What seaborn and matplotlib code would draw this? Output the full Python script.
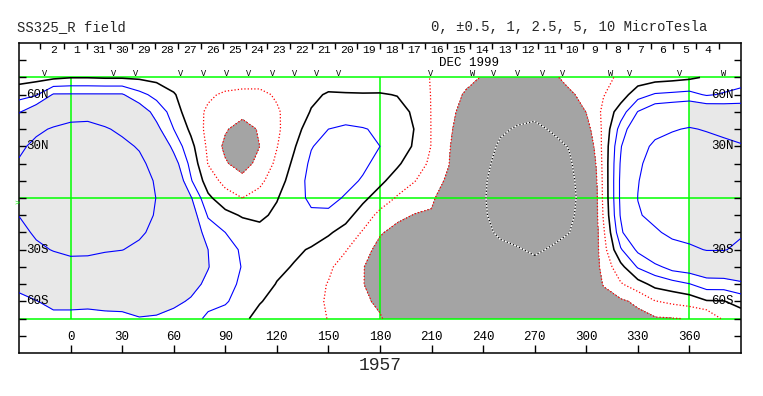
import numpy as np
import matplotlib
matplotlib.use('Agg')
import matplotlib.pyplot as plt
import seaborn as sns

# Synoptic map of the radial field, Carrington rotation 1957 (values in microtesla)
lons = [-30, -20, -10, 0, 10, 20, 30, 40, 50, 60, 70, 80, 90, 100, 110, 120, 130,
        140, 150, 160, 170, 180, 190, 200, 210, 220, 230, 240, 250, 260, 270, 280,
        290, 300, 310, 320, 330, 340, 350, 360, 370, 380, 390]
lats = [70, 60, 50, 40, 30, 20, 10, 0, -10, -20, -30, -40, -50, -60, -70]

# one column per longitude, from 70N down to 70S
br_by_lon = [
    [-0.2, 0.3, 0.95, 1.6, 2.3, 2.6, 2.7, 2.65, 2.52, 2.2, 1.9, 1.5, 1.15, 0.85, 0.7],      # -30
    [-0.15, 0.45, 1.4, 2.3, 2.75, 3.0, 3.1, 3.0, 2.85, 2.65, 2.3, 1.8, 1.35, 0.98, 0.75],  # -20
    [-0.1, 1.05, 1.8, 2.6, 3.2, 3.5, 3.6, 3.5, 3.3, 3.0, 2.55, 2.0, 1.5, 1.15, 0.85],      # -10
    [-0.02, 1.05, 1.9, 2.9, 3.5, 3.8, 3.9, 3.85, 3.6, 3.3, 2.75, 2.1, 1.55, 1.15, 0.85],   # 0
    [-0.02, 1.05, 1.95, 2.95, 3.5, 3.8, 3.9, 3.85, 3.6, 3.25, 2.75, 2.05, 1.5, 1.12, 0.85],  # 10
    [-0.05, 1.05, 1.9, 2.6, 3.2, 3.5, 3.6, 3.55, 3.35, 3.0, 2.6, 1.95, 1.5, 1.15, 0.88],   # 20
    [-0.05, 1.05, 1.75, 2.3, 2.75, 3.1, 3.2, 3.2, 3.0, 2.8, 2.52, 1.9, 1.45, 1.15, 0.9],   # 30
    [-0.08, 0.65, 1.35, 1.95, 2.4, 2.75, 2.9, 2.95, 2.85, 2.65, 2.3, 1.8, 1.45, 1.2, 0.98],  # 40
    [-0.15, 0.35, 0.8, 1.15, 1.65, 2.1, 2.4, 2.48, 2.42, 2.25, 2.0, 1.7, 1.45, 1.2, 0.95],  # 50
    [-0.3, 0.05, 0.3, 0.5, 0.85, 1.25, 1.6, 1.85, 1.95, 1.95, 1.85, 1.65, 1.4, 1.1, 0.85],  # 60
    [-0.3, -0.35, -0.35, -0.1, 0.15, 0.35, 0.55, 1.05, 1.3, 1.45, 1.45, 1.35, 1.15, 0.95, 0.7],  # 70
    [-0.3, -0.45, -0.55, -0.65, -0.6, -0.52, -0.25, 0.1, 0.45, 0.75, 1.0, 1.02, 0.9, 0.65, 0.4],  # 80
    [-0.3, -0.55, -0.8, -0.95, -1.1, -0.95, -0.65, -0.3, 0.15, 0.5, 0.65, 0.7, 0.65, 0.55, 0.3],  # 90
    [-0.3, -0.6, -0.85, -1.2, -1.55, -1.2, -0.85, -0.5, -0.05, 0.3, 0.45, 0.48, 0.42, 0.3, 0.1],  # 100
    [-0.3, -0.6, -0.8, -0.95, -1.0, -0.85, -0.6, -0.35, -0.1, 0.15, 0.3, 0.3, 0.2, 0.03, -0.15],  # 110
    [-0.25, -0.45, -0.55, -0.58, -0.52, -0.4, -0.25, -0.03, 0.1, 0.2, 0.2, 0.1, -0.02, -0.15, -0.25],  # 120
    [-0.3, -0.35, -0.3, -0.2, -0.05, 0.1, 0.25, 0.3, 0.3, 0.2, 0.08, -0.03, -0.15, -0.25, -0.3],  # 130
    [-0.2, -0.1, 0.03, 0.25, 0.47, 0.6, 0.65, 0.6, 0.42, 0.2, -0.04, -0.2, -0.35, -0.42, -0.4],  # 140
    [-0.25, 0.05, 0.35, 0.5, 0.7, 0.8, 0.8, 0.65, 0.4, 0.05, -0.2, -0.42, -0.52, -0.53, -0.51],  # 150
    [-0.3, 0.04, 0.35, 0.55, 0.75, 0.8, 0.65, 0.45, 0.15, -0.15, -0.47, -0.7, -0.8, -0.8, -0.75],  # 160
    [-0.3, 0.03, 0.3, 0.52, 0.65, 0.6, 0.45, 0.1, -0.2, -0.55, -0.82, -0.97, -0.98, -0.9, -0.85],  # 170
    [-0.35, 0.04, 0.3, 0.45, 0.5, 0.35, 0.1, -0.2, -0.65, -0.95, -1.15, -1.3, -1.25, -1.1, -0.95],  # 180
    [-0.3, -0.02, 0.2, 0.3, 0.25, 0.07, -0.2, -0.55, -0.88, -1.15, -1.4, -1.55, -1.55, -1.45, -1.3],  # 190
    [-0.35, -0.2, -0.08, -0.01, -0.05, -0.25, -0.48, -0.75, -1.02, -1.3, -1.6, -1.75, -1.75, -1.65, -1.5],  # 200
    [-0.52, -0.52, -0.52, -0.52, -0.52, -0.6, -0.75, -0.92, -1.05, -1.4, -1.75, -1.95, -2.0, -1.95, -1.8],  # 210
    [-0.65, -0.7, -0.78, -0.85, -0.93, -0.98, -1.1, -1.3, -1.55, -1.85, -2.1, -2.25, -2.3, -2.25, -2.1],  # 220
    [-0.8, -1.08, -1.3, -1.5, -1.65, -1.8, -1.9, -2.0, -2.1, -2.25, -2.35, -2.4, -2.4, -2.3, -2.15],  # 230
    [-1.05, -1.35, -1.6, -1.85, -2.05, -2.25, -2.38, -2.42, -2.4, -2.35, -2.3, -2.25, -2.2, -2.1, -1.95],  # 240
    [-1.2, -1.6, -1.95, -2.35, -2.65, -2.8, -2.9, -2.9, -2.8, -2.6, -2.35, -2.2, -2.05, -1.85, -1.6],  # 250
    [-1.3, -1.75, -2.15, -2.6, -2.95, -3.15, -3.25, -3.25, -3.1, -2.85, -2.42, -2.1, -1.85, -1.6, -1.3],  # 260
    [-1.3, -1.75, -2.2, -2.75, -3.15, -3.4, -3.5, -3.5, -3.35, -3.05, -2.65, -2.2, -1.8, -1.5, -1.2],  # 270
    [-1.1, -1.55, -2.0, -2.4, -2.85, -3.1, -3.2, -3.2, -3.05, -2.8, -2.4, -2.0, -1.65, -1.35, -1.1],  # 280
    [-0.85, -1.08, -1.5, -2.0, -2.45, -2.65, -2.75, -2.78, -2.7, -2.52, -2.2, -1.8, -1.45, -1.3, -1.15],  # 290
    [-0.7, -0.85, -0.98, -1.2, -1.5, -1.8, -2.0, -2.1, -2.05, -1.95, -1.75, -1.5, -1.3, -1.2, -1.1],  # 300
    [-0.65, -0.52, -0.4, -0.4, -0.36, -0.36, -0.38, -0.39, -0.45, -0.58, -0.7, -0.85, -0.98, -1.12, -1.2],  # 310
    [-0.4, -0.25, 0.25, 0.7, 0.95, 1.05, 1.1, 1.1, 1.05, 0.85, 0.45, -0.15, -0.55, -1.08, -1.3],  # 320
    [-0.3, 0.3, 1.02, 1.5, 2.0, 2.3, 2.45, 2.52, 2.4, 2.0, 1.1, 0.55, -0.2, -0.9, -1.15],  # 330
    [-0.2, 0.55, 1.4, 2.1, 2.75, 3.0, 3.1, 3.05, 2.8, 2.35, 1.65, 0.85, 0.15, -0.52, -1.05],  # 340
    [-0.15, 0.6, 1.5, 2.4, 3.0, 3.3, 3.4, 3.35, 3.1, 2.75, 2.1, 1.2, 0.3, -0.4, -1.02],  # 350
    [-0.08, 0.65, 1.6, 2.6, 3.2, 3.5, 3.6, 3.55, 3.3, 2.9, 2.3, 1.3, 0.48, -0.3, -0.98],  # 360
    [0.05, 0.45, 1.5, 2.4, 3.05, 3.35, 3.45, 3.4, 3.15, 2.85, 2.55, 1.45, 0.75, -0.04, -0.97],  # 370
    [0.15, 0.55, 1.4, 2.2, 2.8, 3.1, 3.2, 3.15, 2.95, 2.75, 2.55, 1.5, 0.75, -0.02, -0.4],  # 380
    [0.2, 0.7, 1.3, 2.0, 2.6, 2.9, 3.0, 2.95, 2.8, 2.6, 2.3, 1.55, 0.9, 0.2, -0.3],  # 390
]

pos_levels = [0.5, 1, 2.5, 5, 10]
neg_levels = [-1, -0.5]

lon_ticks = [0, 30, 60, 90, 120, 150, 180, 210, 240, 270, 300, 330, 360]
lat_ticks = [-80, -70, -60, -50, -40, -30, -20, -10, 0, 10, 20, 30, 40, 50, 60, 70, 80]
lat_labels = {60: '60N', 30: '30N', -30: '30S', -60: '60S'}

# day boundaries along the top (Carrington longitude) and the dates between them
day_edges = [-17.5, -3.9, 9.7, 22.7, 35.9, 48.9, 62.7, 75.6, 88.8, 101.8, 114.4,
             127.4, 140.6, 153.6, 166.8, 179.8, 193.0, 205.9, 219.1, 232.1, 245.3,
             258.9, 271.7, 285.0, 297.8, 311.2, 324.4, 337.4, 350.6, 363.6, 377.1]
day_names = ['2', '1', '31', '30', '29', '28', '27', '26', '25', '24', '23', '22',
             '21', '20', '19', '18', '17', '16', '15', '14', '13', '12', '11', '10',
             '9', '8', '7', '6', '5', '4']

# observation markers above the map
obs_lons = [-15.0, 24.8, 37.5, 64.0, 77.5, 91.0, 103.6, 117.4, 130.0, 143.0, 156.1,
            209.5, 234.0, 246.3, 260.0, 274.5, 286.2, 314.0, 325.4, 354.0, 379.8]
obs_marks = ['V'] * 12 + ['W', 'V', 'V', 'V', 'V', 'W', 'V', 'V', 'W']

sns.set_theme(style='white')
plt.rcParams['font.family'] = ['Liberation Mono', 'DejaVu Sans Mono']

W, H = 763, 396
fig = plt.figure(figsize=(W / 100, H / 100), dpi=100)
ax = fig.add_axes([19 / W, 1 - 353 / H, 722 / W, 310 / H])

x = np.array(lons, dtype=float)
y = np.array(lats, dtype=float)[::-1]
z = np.array(br_by_lon, dtype=float).T[::-1]

green = '#00ff00'
light_gray = '#e8e8e8'
dark_gray = '#a4a4a4'

# shading: strong positive on the left lobe and its wrapped copy, strong negative everywhere
left = x <= 100
right = x >= 360
ax.contourf(x[left], y, z[:, left], levels=[1, 100], colors=[light_gray], zorder=1)
ax.contourf(x[right], y, z[:, right], levels=[1, 100], colors=[light_gray], zorder=1)
ax.contourf(x, y, z, levels=[-100, -1], colors=[dark_gray], zorder=1)

ax.hlines([70, 0, -70], -30, 390, color=green, lw=1.1, zorder=2)
ax.vlines([0, 180, 360], -70, 70, color=green, lw=1.1, zorder=2)

ax.contour(x, y, z, levels=[0], colors='black', linewidths=1.15,
           linestyles='solid', zorder=3)
ax.contour(x, y, z, levels=pos_levels, colors='#0000ff', linewidths=0.8,
           linestyles='solid', zorder=3)
ax.contour(x, y, z, levels=neg_levels, colors='#ff0000', linewidths=0.9,
           linestyles='dotted', zorder=3)
ax.contour(x, y, z, levels=[-2.5], colors='white', linewidths=0.9,
           linestyles='solid', zorder=3)
ax.contour(x, y, z, levels=[-2.5], colors='black', linewidths=0.9,
           linestyles='dotted', zorder=4)

ax.set_xlim(-30, 390)
ax.set_ylim(-90, 90)
ax.set_xticks([])
ax.set_yticks([])
for s in ax.spines.values():
    s.set_color('black')
    s.set_linewidth(1.1)

# frame ticks
ax.vlines(lon_ticks, -90, -85.4, color='black', lw=1)
for lo in lon_ticks:
    ax.text(lo, -80.8, str(lo), ha='center', va='center', fontsize=9, color='black')
ax.hlines(lat_ticks, -30, -25.8, color='black', lw=1)
ax.hlines(lat_ticks, 385.8, 390, color='black', lw=1)
for la, lab in lat_labels.items():
    ax.text(-25.6, la, lab, ha='left', va='center', fontsize=9, color='black', zorder=5)
    ax.text(385.9, la, lab, ha='right', va='center', fontsize=9, color='black', zorder=5)

# dates along the top
ax.vlines(day_edges, 86.4, 90, color='black', lw=1)
for a, b, name in zip(day_edges[:-1], day_edges[1:], day_names):
    ax.text((a + b) / 2 + 0.6, 86.0, name, ha='center', va='center', fontsize=8.2, color='black')
ax.text(231.8, 78.6, 'DEC 1999', ha='center', va='center', fontsize=9, color='black')

for lo, m in zip(obs_lons, obs_marks):
    ax.text(lo, 72.4, m, ha='center', va='center', fontsize=6.2, color='black')

ax.text(-31.2, -3, '>', ha='center', va='center', fontsize=6, color=green, clip_on=False)

fig.text(17 / W, 1 - 27.5 / H, 'SS325_R field', ha='left', va='center', fontsize=10)
fig.text(431 / W, 1 - 27.5 / H, '0, \u00b10.5, 1, 2.5, 5, 10 MicroTesla',
         ha='left', va='center', fontsize=10)
fig.text(380 / W, 1 - 366 / H, '1957', ha='center', va='center', fontsize=13)

fig.savefig('out.png', dpi=100, facecolor='white')
